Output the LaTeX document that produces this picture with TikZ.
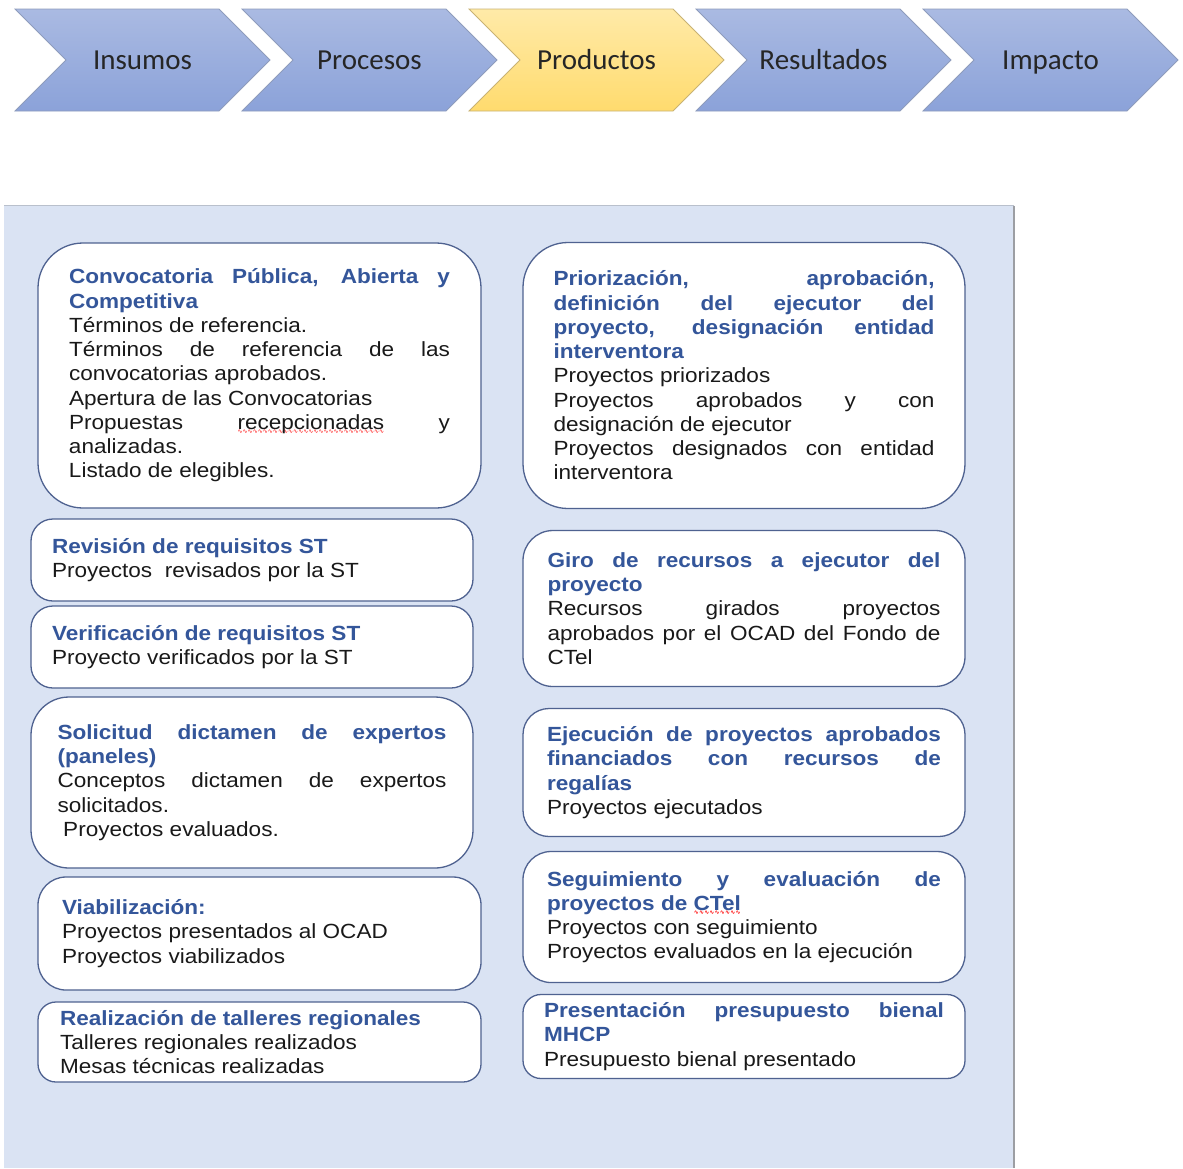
\documentclass[tikz,border=0pt]{standalone}
\usepackage{fontspec}
\usepackage{tikz}
\usetikzlibrary{shapes.symbols}
\setmainfont{Liberation Sans}[FakeStretch=1.1]
\newfontfamily\stagefont{Carlito}
\newfontfamily\wavefont{DejaVu Sans}
\definecolor{stagetop}{HTML}{AABAE2}
\definecolor{stagebot}{HTML}{8BA2D9}
\definecolor{stageline}{HTML}{8E9CBC}
\definecolor{nowtop}{HTML}{FFEAA8}
\definecolor{nowbot}{HTML}{FFDB6E}
\definecolor{nowline}{HTML}{C8B274}
\definecolor{stagetext}{HTML}{262626}
\definecolor{panelfill}{HTML}{DAE3F3}
\definecolor{paneltop}{HTML}{B9C0CC}
\definecolor{panelside}{HTML}{9C9EA3}
\definecolor{prodline}{HTML}{4F6290}
\definecolor{titleblue}{HTML}{34569A}
\newcommand\spellwave[1]{\setbox0\hbox{#1}\rlap{\raisebox{-4pt}{\hbox to \wd0{\color{red}\xleaders\hbox{\wavefont\fontsize{6}{6}\selectfont ∿}\hfil}}}\box0\relax}
\newcommand{\prodfont}{\fontsize{20.5}{24.25}\selectfont\hyphenpenalty=10000\tolerance=10000}
\newcommand{\prodtitle}[1]{{\color{titleblue}\bfseries #1}}
\tikzstyle{stage} = [signal, signal from=west, signal to=east, draw=stageline, line width=0.8pt,
top color=stagetop, bottom color=stagebot, minimum width=255pt, minimum height=102pt,
font=\stagefont\fontsize{29}{34}\selectfont, text=stagetext, text height=18.7pt, text depth=0pt,
node distance=227pt]
\tikzstyle{stagenow} = [stage, draw=nowline, top color=nowtop, bottom color=nowbot]
\tikzstyle{prod} = [rectangle, draw=prodline, line width=1.3pt, fill=white, align=justify,
font=\prodfont, text=black!90, inner sep=0pt, minimum width=443pt, text width=381pt]
\begin{document}
\begin{tikzpicture}[x=1pt, y=1pt]
			\useasboundingbox (0,0) rectangle (1183,-1168);
			% cadena de valor
			\node [stage] (insumos) at (142.5,-60) {Insumos};
			\node [stage, right of=insumos] (procesos) {Procesos};
			\node [stagenow, right of=procesos] (productos) {Productos};
			\node [stage, right of=productos] (resultados) {Resultados};
			\node [stage, right of=resultados] (impacto) {Impacto};
			% panel de productos
			\fill [panelfill] (4,-205.5) rectangle (1014,-1168);
			\draw [paneltop, line width=1pt] (4,-205.5) -- (1014,-205.5);
			\draw [panelside, line width=1.5pt] (1014,-205.5) -- (1014,-1168);
			\node [prod, rounded corners=45pt, minimum height=265pt] (convoc) at (259.5,-375.5)
			{\prodtitle{Convocatoria Pública, Abierta y\linebreak Competitiva}\\
			Términos de referencia.\\
			Términos de referencia de las\linebreak convocatorias aprobados.\\
			Apertura de las Convocatorias\\
			Propuestas \spellwave{recepcionadas} y\linebreak analizadas.\\
			Listado de elegibles.};
			\node [prod, rounded corners=22pt, minimum width=442pt, minimum height=82pt, text width=400pt,
			below of=convoc, node distance=184.5pt, xshift=-7.5pt] (revision)
			{\prodtitle{Revisión de requisitos ST}\\ Proyectos\ \ revisados por la ST};
			\node [prod, rounded corners=22pt, minimum width=442pt, minimum height=82pt, text width=400pt,
			below of=revision, node distance=87pt] (verif)
			{\prodtitle{Verificación de requisitos ST}\\ Proyecto verificados por la ST};
			\node [prod, rounded corners=38pt, minimum width=442pt, minimum height=171pt, text width=389pt,
			below of=verif, node distance=135.5pt] (dictamen)
			{\prodtitle{Solicitud dictamen de expertos\linebreak (paneles)}\\
			Conceptos dictamen de expertos\linebreak solicitados.\\
			\hspace*{0.28em}Proyectos evaluados.};
			\node [prod, rounded corners=28pt, minimum height=113pt, text width=395pt,
			below of=dictamen, node distance=151pt, xshift=7.5pt] (viab)
			{\prodtitle{Viabilización:}\\ Proyectos presentados al OCAD\\ Proyectos viabilizados};
			\node [prod, rounded corners=18pt, minimum height=80pt, text width=399pt,
			below of=viab, node distance=108.5pt] (talleres)
			{\prodtitle{Realización de talleres regionales}\\ Talleres regionales realizados\\ Mesas técnicas realizadas};
			\node [prod, rounded corners=45pt, minimum width=442pt, minimum height=266pt,
			right of=convoc, node distance=484.5pt] (prior)
			{\prodtitle{Priorización, aprobación,\linebreak definición del ejecutor del\linebreak proyecto, designación entidad\linebreak interventora}\\
			Proyectos priorizados\\
			Proyectos aprobados y con\linebreak designación de ejecutor\\
			Proyectos designados con entidad\linebreak interventora};
			\node [prod, rounded corners=30pt, minimum width=442pt, minimum height=156pt, text width=393pt,
			below of=prior, node distance=233pt] (giro)
			{\prodtitle{Giro de recursos a ejecutor del\linebreak proyecto}\\
			Recursos girados proyectos\linebreak aprobados por el OCAD del Fondo de\linebreak CTel};
			\node [prod, rounded corners=26pt, minimum width=442pt, minimum height=128pt, text width=394pt,
			below of=giro, node distance=164pt] (ejec)
			{\prodtitle{Ejecución de proyectos aprobados\linebreak financiados con recursos de\linebreak regalías}\\
			Proyectos ejecutados};
			\node [prod, rounded corners=28pt, minimum width=442pt, minimum height=131pt, text width=394pt,
			below of=ejec, node distance=144.5pt] (segui)
			{\prodtitle{Seguimiento y evaluación de\linebreak proyectos de \spellwave{CTel}}\\
			Proyectos con seguimiento\\ Proyectos evaluados en la ejecución};
			\node [prod, rounded corners=18pt, minimum width=442pt, minimum height=84pt, text width=400pt,
			below of=segui, node distance=119.5pt] (presup)
			{\prodtitle{Presentación presupuesto bienal\linebreak MHCP}\\ Presupuesto bienal presentado};
		\end{tikzpicture}
\end{document}
